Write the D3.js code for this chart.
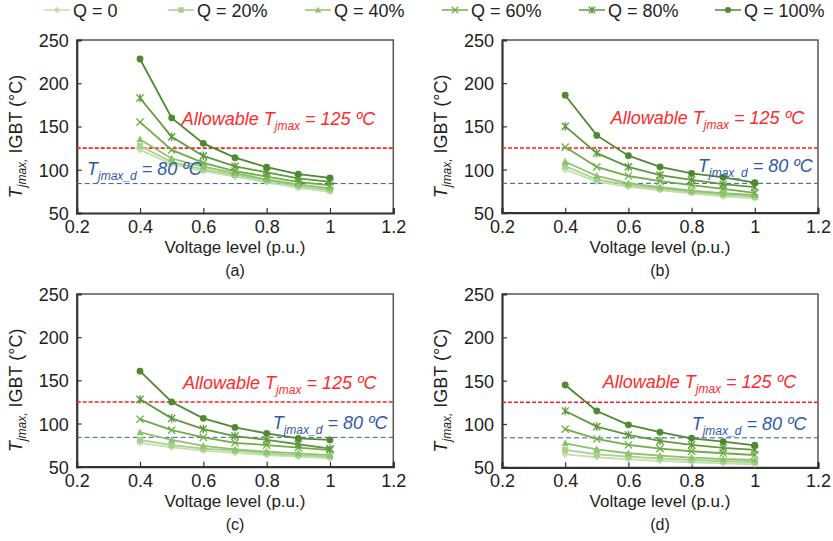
<!DOCTYPE html>
<html><head><meta charset="utf-8">
<script src="https://cdn.jsdelivr.net/npm/d3@7"></script>
<style>body{margin:0;background:#fff}svg{display:block;font-family:"Liberation Sans",Arial,sans-serif}</style>
</head><body><svg id="c" width="833" height="541"></svg>
<script>
const voltage = [0.4, 0.5, 0.6, 0.7, 0.8, 0.9, 1.0];
const seriesNames = ["Q = 0", "Q = 20%", "Q = 40%", "Q = 60%", "Q = 80%", "Q = 100%"];
const seriesColors = ["#c3deb0", "#a8d08d", "#8dc36a", "#70ad47", "#5e9a3c", "#4f8a30"];
const seriesMarkers = ["diamond", "square", "triangle", "cross", "asterisk", "circle"];
// each panel: one array per Q level, in seriesNames order
const panelA = [
  [123, 106.5, 98.5, 92, 85.5, 79, 74.5],
  [127.5, 109, 100.5, 94, 87.5, 81, 76.5],
  [135, 113, 103.5, 96, 89, 83, 78.5],
  [155, 123, 108, 98.5, 92, 86, 82],
  [183, 138, 116, 104, 97, 90, 86],
  [228, 160, 130.5, 114, 103, 95, 90.5]
];
const panelB = [
  [100, 86, 80, 76, 72.5, 69, 66.7],
  [104, 88.5, 82, 78, 74, 71, 68.5],
  [109, 92.5, 84, 79.5, 75.5, 72.5, 70.5],
  [126, 103, 92.5, 86.5, 82, 77.7, 73],
  [150, 119, 103, 93.5, 88, 83, 79.5],
  [186, 139.5, 116, 103, 95.5, 91, 84.7]
];
const panelC = [
  [77.7, 72.4, 68.5, 66, 63.5, 61.6, 59.7],
  [81, 75, 71, 68.5, 65.5, 63.5, 61.6],
  [89.7, 81, 74, 70, 67.4, 65.5, 63.5],
  [105, 92.4, 84, 77.7, 75, 72, 69.3],
  [128, 106, 93.6, 85.5, 81, 76, 71],
  [160.6, 125, 106, 95.5, 88.6, 82.8, 81]
];
const panelD = [
  [65, 61.6, 59.2, 57.3, 55.8, 54.6, 53.5],
  [70, 65, 62.3, 60.4, 58.4, 57, 56.1],
  [77.7, 70.8, 66.2, 63.4, 61.1, 59.6, 58.4],
  [94, 82.7, 75.8, 71.5, 68.5, 66.2, 64.2],
  [115, 97, 87.3, 80.4, 75.8, 72.3, 70],
  [145, 115, 99, 90.5, 83.5, 79.6, 75.4]
];
const panelLabels = ["(a)", "(b)", "(c)", "(d)"];
const xTicks = [0.2, 0.4, 0.6, 0.8, 1.0, 1.2];
const yTicks = [50, 100, 150, 200, 250];
const allowableT = 125;
const designT = 84;

const svg = d3.select("#c");
const panels = [
  {data: panelA, L: 76.7, R: 393.3, T: 40, B: 213, allow: [181.7, 125], des: [87, 175]},
  {data: panelB, L: 502, R: 818, T: 40, B: 212.7, allow: [610.7, 124], des: [698, 172]},
  {data: panelC, L: 76.7, R: 393.3, T: 294, B: 466.7, allow: [183, 389.3], des: [272.7, 429.3]},
  {data: panelD, L: 502, R: 818, T: 294, B: 467.3, allow: [602.7, 388], des: [691.7, 430]}
];

function drawMarker(g, type, x, y, color, s) {
  if (type === "circle") g.append("circle").attr("cx", x).attr("cy", y).attr("r", s * 0.95).attr("fill", color);
  else if (type === "square") g.append("rect").attr("x", x - s * 0.85).attr("y", y - s * 0.85).attr("width", s * 1.7).attr("height", s * 1.7).attr("fill", color);
  else if (type === "diamond") g.append("path").attr("d", `M${x},${y - s}L${x + s},${y}L${x},${y + s}L${x - s},${y}Z`).attr("fill", color);
  else if (type === "triangle") g.append("path").attr("d", `M${x},${y - s * 1.1}L${x + s},${y + s * 0.8}L${x - s},${y + s * 0.8}Z`).attr("fill", color);
  else if (type === "cross") g.append("path").attr("d", `M${x - s},${y - s}L${x + s},${y + s}M${x - s},${y + s}L${x + s},${y - s}`).attr("stroke", color).attr("stroke-width", 1.3).attr("fill", "none");
  else if (type === "asterisk") g.append("path").attr("d", `M${x - s},${y - s}L${x + s},${y + s}M${x - s},${y + s}L${x + s},${y - s}M${x},${y - s * 1.2}L${x},${y + s * 1.2}`).attr("stroke", color).attr("stroke-width", 1.3).attr("fill", "none");
}

panels.forEach((p, pi) => {
  const x = d3.scaleLinear().domain([0.2, 1.2]).range([p.L, p.R]);
  const y = d3.scaleLinear().domain([50, 250]).range([p.B, p.T]);
  const g = svg.append("g");
  // frame top/right
  g.append("path").attr("d", `M${p.L},${p.T}H${p.R}V${p.B}`).attr("fill", "none").attr("stroke", "#555").attr("stroke-width", 1.5);
  // axes
  const xa = g.append("g").attr("transform", `translate(0,${p.B})`)
    .call(d3.axisBottom(x).tickValues(xTicks).tickSize(-5).tickPadding(10).tickFormat(d => d3.format("~g")(d)));
  const ya = g.append("g").attr("transform", `translate(${p.L},0)`)
    .call(d3.axisLeft(y).tickValues(yTicks).tickSize(-5).tickPadding(8));
  [xa, ya].forEach(a => {
    a.select(".domain").attr("stroke", "#333").attr("stroke-width", 2.2);
    a.selectAll(".tick line").attr("stroke", "#333").attr("stroke-width", 1.2);
    a.selectAll("text").attr("font-size", 18).attr("fill", "#222").attr("font-family", "Liberation Sans, Arial, sans-serif");
  });
  xa.selectAll("text").attr("dy", "0.55em");
  ya.selectAll("text").attr("dy", "0.36em");
  // reference lines
  g.append("line").attr("x1", p.L).attr("x2", p.R).attr("y1", y(allowableT)).attr("y2", y(allowableT))
    .attr("stroke", "#ff1e1e").attr("stroke-width", 1.6).attr("stroke-dasharray", "4,2");
  g.append("line").attr("x1", p.L).attr("x2", p.R).attr("y1", y(designT)).attr("y2", y(designT))
    .attr("stroke", "#2f5aa8").attr("stroke-width", 1).attr("stroke-dasharray", "5,3");
  // series
  const line = d3.line().x((d, i) => x(voltage[i])).y(d => y(d));
  p.data.forEach((vals, si) => {
    g.append("path").datum(vals).attr("d", line).attr("fill", "none")
      .attr("stroke", seriesColors[si]).attr("stroke-width", 1.8);
    vals.forEach((v, i) => drawMarker(g, seriesMarkers[si], x(voltage[i]), y(v), seriesColors[si], 3.6));
  });
  // annotations
  const at = g.append("text").attr("x", p.allow[0]).attr("y", p.allow[1]).attr("font-size", 18)
    .attr("font-style", "italic").attr("fill", "#ff2a2a");
  at.append("tspan").text("Allowable T");
  at.append("tspan").attr("font-size", 12).attr("dy", 5).text("jmax");
  at.append("tspan").attr("dy", -5).text(" = 125 ºC");
  const dt = g.append("text").attr("x", p.des[0]).attr("y", p.des[1]).attr("font-size", 18)
    .attr("font-style", "italic").attr("fill", "#2f5aa8");
  dt.append("tspan").text("T");
  dt.append("tspan").attr("font-size", 12).attr("dy", 5).text("jmax_d");
  dt.append("tspan").attr("dy", -5).text(" = 80 ºC");
  // axis titles
  const cx = (p.L + p.R) / 2;
  g.append("text").attr("x", cx).attr("y", p.B + 40).attr("text-anchor", "middle").attr("font-size", 17).attr("fill", "#222").text("Voltage level (p.u.)");
  g.append("text").attr("x", cx).attr("y", p.B + 63).attr("text-anchor", "middle").attr("font-size", 16).attr("fill", "#222").text(panelLabels[pi]);
  const yt = g.append("text").attr("transform", `translate(${p.L - 55},${(p.T + p.B) / 2 + 10}) rotate(-90)`)
    .attr("text-anchor", "middle").attr("font-size", 18).attr("fill", "#222");
  yt.append("tspan").attr("font-style", "italic").text("T");
  yt.append("tspan").attr("font-style", "italic").attr("font-size", 12).attr("dy", 4).text("jmax,");
  yt.append("tspan").attr("dy", -4).text(" IGBT (°C)");
});

// legend
const legX = [57, 181, 318, 455, 592, 728];
const lg = svg.append("g");
seriesNames.forEach((n, i) => {
  const mx = legX[i], my = 10;
  lg.append("line").attr("x1", mx - 13).attr("x2", mx + 13).attr("y1", my).attr("y2", my).attr("stroke", seriesColors[i]).attr("stroke-width", 1.5);
  drawMarker(lg, seriesMarkers[i], mx, my, seriesColors[i], 3.2);
  lg.append("text").attr("x", mx + 16).attr("y", my + 6.5).attr("font-size", 18).attr("fill", "#222").text(n);
});
</script></body></html>
